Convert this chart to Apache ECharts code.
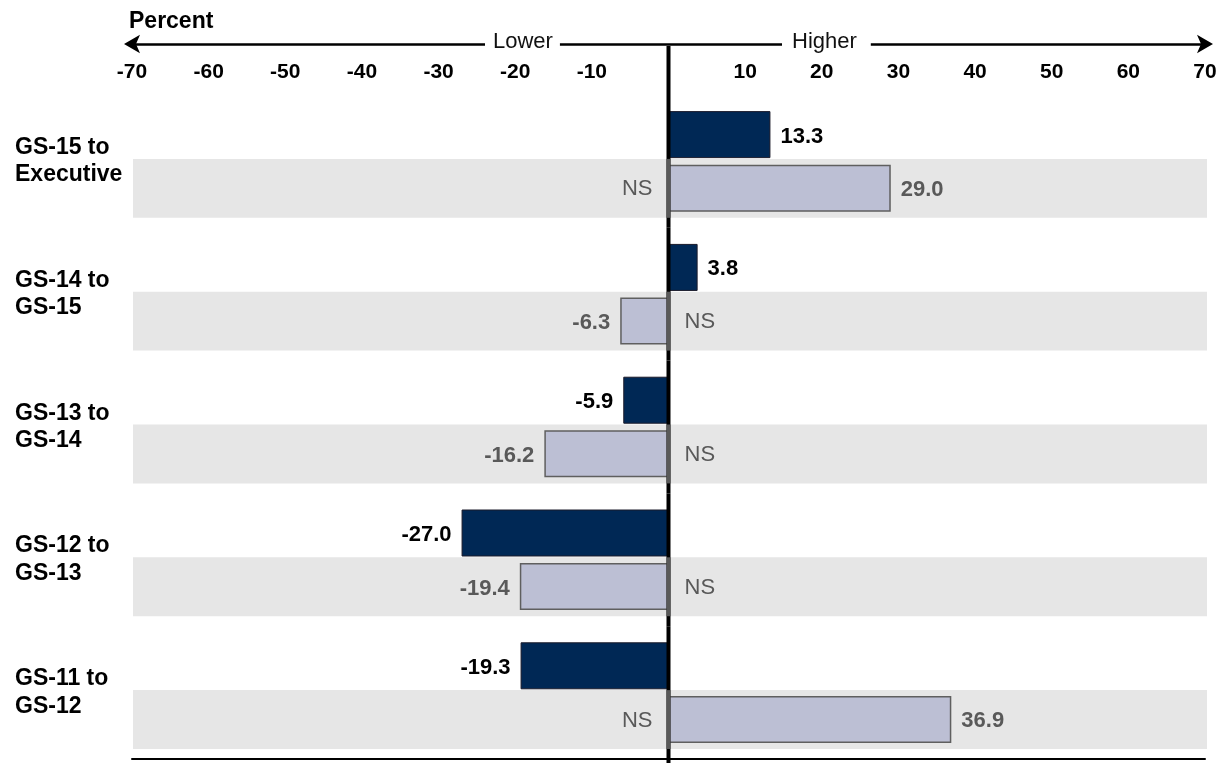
<!DOCTYPE html>
<html><head><meta charset="utf-8">
<script src="https://cdn.jsdelivr.net/npm/echarts@6/dist/echarts.min.js"></script>
<style>html,body{margin:0;padding:0;background:#fff}#c{width:1224px;height:763px}</style>
</head><body><div id="c"></div>
<script>
const categories = ['GS-15 to\nExecutive', 'GS-14 to\nGS-15', 'GS-13 to\nGS-14', 'GS-12 to\nGS-13', 'GS-11 to\nGS-12'];
const darkValues = [13.3, 3.8, -5.9, -27.0, -19.3];
const lightValues = [29.0, -6.3, -16.2, -19.4, 36.9];
const nsSide = [-1, 1, 1, 1, -1]; // side of zero where "NS" is written on the light row
const tickLabels = [-70, -60, -50, -40, -30, -20, -10, 10, 20, 30, 40, 50, 60, 70];
const axisMin = -70, axisMax = 70, axisStep = 10;

const FONT = '"Liberation Sans", Arial, sans-serif';
const chart = echarts.init(document.getElementById('c'), null, {renderer: 'canvas'});

function barData(vals) {
  return vals.map(v => ({value: v, label: {position: v >= 0 ? 'right' : 'left'}}));
}

const BAND_TOP = -2.5 / 133, BAND_BOT = 56.5 / 133, LIGHT_MID = 27 / 133;

const option = {
  animation: false,
  backgroundColor: '#fff',
  title: {
    text: 'Percent', left: 124, top: 5,
    textStyle: {fontFamily: FONT, fontSize: 23, fontWeight: 'bold', color: '#000'}
  },
  grid: {left: 132, right: 19, top: 95, bottom: 4, containLabel: false},
  xAxis: [
    {
      type: 'value', position: 'top', min: axisMin, max: axisMax, interval: axisStep,
      axisLine: {show: false}, axisTick: {show: false}, splitLine: {show: false},
      axisLabel: {
        margin: 12, fontFamily: FONT, fontSize: 21, fontWeight: 'bold', color: '#000',
        formatter: v => tickLabels.includes(v) ? String(v) : ''
      }
    },
    {
      type: 'value', position: 'top', offset: 51, min: axisMin, max: axisMax,
      axisLine: {show: true, symbol: ['arrow', 'arrow'], symbolSize: [14, 16], symbolOffset: [-8, 8],
        lineStyle: {color: '#000', width: 2.5}},
      axisTick: {show: false}, axisLabel: {show: false}, splitLine: {show: false}
    },
    {
      type: 'value', position: 'bottom', min: axisMin, max: axisMax,
      axisLine: {show: true, onZero: false, lineStyle: {color: '#000', width: 2}},
      axisTick: {show: false}, axisLabel: {show: false}, splitLine: {show: false}
    }
  ],
  yAxis: {
    type: 'category', data: categories, inverse: true,
    axisLine: {show: false}, axisTick: {show: false}, splitLine: {show: false},
    axisLabel: {
      align: 'left', margin: 117, fontFamily: FONT, fontSize: 23, fontWeight: 'bold',
      color: '#000', lineHeight: 27.5, padding: [4, 0, 0, 0]
    }
  },
  graphic: [
    {type: 'text', left: 485, top: 31, z: 100,
      style: {text: 'Lower', font: '22px ' + FONT, fill: '#111', backgroundColor: '#fff', padding: [0, 7, 0, 8]}},
    {type: 'text', left: 782, top: 31, z: 100,
      style: {text: 'Higher', font: '22px ' + FONT, fill: '#111', backgroundColor: '#fff', padding: [0, 14, 0, 10]}}
  ],
  series: [
    {
      type: 'custom', name: 'band', z: 1, clip: false,
      encode: {x: 0, y: 1},
      data: categories.map((c, i) => [0, i]),
      renderItem: function (params, api) {
        const i = api.value(1);
        const c = api.coord([0, i]);
        const h = api.size([0, 1])[1];
        const x0 = api.coord([axisMin, i])[0] + 1;
        const x1 = api.coord([axisMax, i])[0] + 2;
        const top = c[1] + h * BAND_TOP, bot = c[1] + h * BAND_BOT;
        const side = nsSide[i];
        return {
          type: 'group',
          children: [
            {type: 'rect', shape: {x: x0, y: top, width: x1 - x0, height: bot - top}, style: {fill: '#e6e6e6'}},
            {type: 'text', x: c[0] + side * 16, y: c[1] + h * LIGHT_MID + 1,
              style: {text: 'NS', fill: '#595959', font: '22px ' + FONT,
                align: side < 0 ? 'right' : 'left', verticalAlign: 'middle'}}
          ]
        };
      }
    },
    {
      type: 'bar', name: 'dark', xAxisIndex: 0, z: 3,
      data: barData(darkValues),
      barWidth: 47, barGap: '14%',
      itemStyle: {color: '#002855', borderColor: '#1a1a2a', borderWidth: 1},
      label: {show: true, distance: 10, offset: [0, 2], fontFamily: FONT, fontSize: 22, fontWeight: 'bold', color: '#000',
        formatter: p => p.value.toFixed(1)}
    },
    {
      type: 'bar', name: 'light', xAxisIndex: 0, z: 3,
      data: barData(lightValues),
      barWidth: 47, barGap: '14%',
      itemStyle: {color: '#bcbfd4', borderColor: '#5f5f5f', borderWidth: 1.5},
      label: {show: true, distance: 10, offset: [0, 2], fontFamily: FONT, fontSize: 22, fontWeight: 'bold', color: '#595959',
        formatter: p => p.value.toFixed(1)}
    },
    {
      type: 'custom', name: 'zero', z: 10, clip: false,
      encode: {x: 0, y: 1},
      data: categories.map((c, i) => [0, i]),
      renderItem: function (params, api) {
        const i = api.value(1);
        const c = api.coord([0, i]);
        const h = api.size([0, 1])[1];
        const cs = params.coordSys;
        let top = c[1] - h / 2, bot = c[1] + h / 2;
        if (i === 0) top = cs.y - 49;
        if (i === categories.length - 1) bot = cs.y + cs.height + 5;
        const bTop = c[1] + h * BAND_TOP, bBot = c[1] + h * BAND_BOT;
        return {
          type: 'group',
          children: [
            {type: 'rect', shape: {x: c[0] - 2, y: top, width: 4, height: bot - top}, style: {fill: '#000'}},
            {type: 'rect', shape: {x: c[0] - 2, y: bTop, width: 4, height: bBot - bTop}, style: {fill: '#595959'}}
          ]
        };
      }
    }
  ]
};
chart.setOption(option);
</script>
</body></html>
